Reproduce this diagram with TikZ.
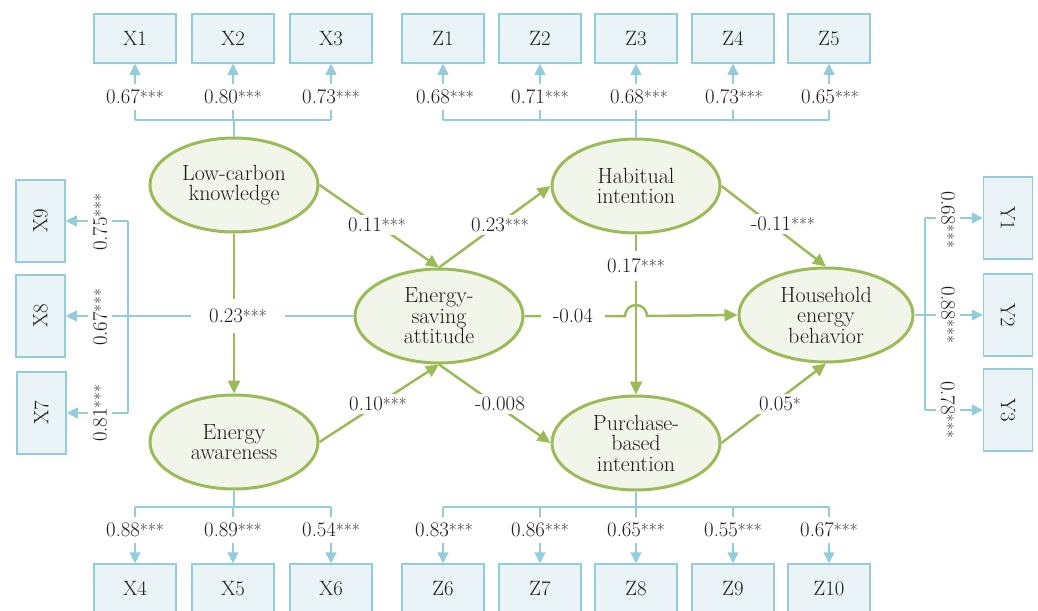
\documentclass[tikz,border=0pt]{standalone}
\usepackage{graphicx}
\usetikzlibrary{shapes.geometric,arrows.meta}
\definecolor{gborder}{HTML}{9BBB59}
\definecolor{gfill}{HTML}{F2F6EA}
\definecolor{bborder}{HTML}{92CDDC}
\definecolor{bfill}{HTML}{EAF4F7}
\definecolor{txt}{HTML}{1A1A1A}
\newcommand{\sig}[1]{{\fontsize{17.28}{20}\selectfont#1}}
\begin{document}
\begin{tikzpicture}[x=1pt,y=-1pt,
  every node/.style={font=\fontsize{20.74}{22}\selectfont, text=txt},
  latent/.style={ellipse, draw=gborder, fill=gfill, line width=3pt, minimum width=168pt, minimum height=94pt, inner sep=0pt, align=center, font=\fontsize{22}{20.5}\selectfont},
  hbox/.style={rectangle, draw=bborder, fill=bfill, line width=1.5pt, minimum width=82pt, minimum height=49pt, inner sep=0pt},
  vbox/.style={rectangle, draw=bborder, fill=bfill, line width=1.5pt, minimum width=49pt, minimum height=82pt, inner sep=0pt},
  gpath/.style={draw=gborder, line width=2.5pt, -{Triangle[length=13pt,width=12pt]}},
  gline/.style={draw=gborder, line width=2.5pt},
  bpath/.style={draw=bborder, line width=1.5pt, -{Triangle[length=11pt,width=11pt]}},
  bline/.style={draw=bborder, line width=1.5pt},
  lab/.style={fill=white, inner xsep=4pt, inner ysep=3pt},
  vlab/.style={fill=white, inner xsep=4pt, inner ysep=8pt},
  ilab/.style={fill=white, inner xsep=2pt, inner ysep=6pt},
  slab/.style={fill=white, inner xsep=2pt, inner ysep=5pt},
]
\useasboundingbox (0,0) rectangle (1038,610);

% latent variables
\node[latent] (LK) at (234,185) {Low-carbon\\knowledge};
\node[latent] (EA) at (234,442) {Energy\\awareness};
\node[latent] (ESA) at (439,316) {Energy-\\saving\\attitude};
\node[latent] (HI) at (636,186) {Habitual\\intention};
\node[latent] (PI) at (636,443) {Purchase-\\based\\intention};
\node[latent, minimum width=174pt] (HEB) at (826,315) {Household\\energy\\behavior};

% indicator boxes
\node[hbox] (X1) at (135,38.5) {X1};
\node[hbox] (X2) at (233,38.5) {X2};
\node[hbox] (X3) at (331,38.5) {X3};
\node[hbox] (Z1) at (443,38.5) {Z1};
\node[hbox] (Z2) at (540,38.5) {Z2};
\node[hbox] (Z3) at (636,38.5) {Z3};
\node[hbox] (Z4) at (733,38.5) {Z4};
\node[hbox] (Z5) at (829,38.5) {Z5};
\node[hbox] (X4) at (135,588.5) {X4};
\node[hbox] (X5) at (233,588.5) {X5};
\node[hbox] (X6) at (331,588.5) {X6};
\node[hbox] (Z6) at (443,588.5) {Z6};
\node[hbox] (Z7) at (540,588.5) {Z7};
\node[hbox] (Z8) at (636,588.5) {Z8};
\node[hbox] (Z9) at (733,588.5) {Z9};
\node[hbox] (Z10) at (829,588.5) {Z10};
\node[vbox] (X9) at (40.5,221) {\rotatebox{90}{X9}};
\node[vbox] (X8) at (40.5,316) {\rotatebox{90}{X8}};
\node[vbox] (X7) at (41.5,413) {\rotatebox{90}{X7}};
\node[vbox] (Y1) at (1008,218) {\rotatebox{-90}{Y1}};
\node[vbox] (Y2) at (1008,315) {\rotatebox{-90}{Y2}};
\node[vbox] (Y3) at (1008,410) {\rotatebox{-90}{Y3}};

% bracket points
\coordinate (tX) at (233,120);
\coordinate (tZ) at (636,120);
\coordinate (bX) at (234,507);
\coordinate (bZ) at (636,507);
\coordinate (lB) at (128,316);
\coordinate (rB) at (925,315);

% blue measurement lines
\draw[bline] (LK.north) -- (LK.north |- tX);
\draw[bline] (X1.south |- tX) -- (X3.south |- tX);
\foreach \n in {X1,X2,X3} \draw[bpath] (\n.south |- tX) -- (\n.south);
\draw[bline] (HI.north) -- (tZ);
\draw[bline] (Z1.south |- tZ) -- (Z5.south |- tZ);
\foreach \n in {Z1,Z2,Z3,Z4,Z5} \draw[bpath] (\n.south |- tZ) -- (\n.south);
\draw[bline] (EA.south) -- (EA.south |- bX);
\draw[bline] (X4.north |- bX) -- (X6.north |- bX);
\foreach \n in {X4,X5,X6} \draw[bpath] (\n.north |- bX) -- (\n.north);
\draw[bline] (PI.south) -- (bZ);
\draw[bline] (Z6.north |- bZ) -- (Z10.north |- bZ);
\foreach \n in {Z6,Z7,Z8,Z9,Z10} \draw[bpath] (\n.north |- bZ) -- (\n.north);
\draw[bline] (X9.east -| lB) -- (X7.east -| lB);
\draw[bpath] (X9.east -| lB) -- (X9.east);
\draw[bpath] (X7.east -| lB) -- (X7.east);
\draw[bpath] (ESA.west) -- (X8.east);
\draw[bline] (Y1.west -| rB) -- (Y3.west -| rB);
\draw[bpath] (Y1.west -| rB) -- (Y1.west);
\draw[bpath] (Y3.west -| rB) -- (Y3.west);
\draw[bpath] (HEB.east) -- (Y2.west);

% green structural paths
\draw[gpath] (LK.east) -- (ESA.north);
\draw[gpath] (EA.east) -- (ESA.south);
\draw[gpath] (LK.south) -- (EA.north);
\draw[gpath] (ESA.north) -- (HI.west);
\draw[gpath] (ESA.south) -- (PI.west);
\draw[gpath] (HI.south) -- (PI.north);
\draw[gpath] (HI.east) -- (HEB.north);
\draw[gpath] (PI.east) -- (HEB.south);
\draw[gpath] (ESA.east) -- (625,316) arc[start angle=180, end angle=0, radius=11pt] -- (HEB.west);

% structural labels
\node[lab] (p1) at (377,225) {0.11\sig{***}};
\node[lab] (p2) at (378,404) {0.10\sig{***}};
\node[vlab, inner xsep=18pt, inner ysep=10pt] (p3) at (238,316) {0.23\sig{***}};
\node[lab] (p4) at (500,225) {0.23\sig{***}};
\node[lab] (p5) at (500,404) {-0.008};
\node[lab, inner xsep=12pt] (p6) at (573,316) {-0.04};
\node[vlab] (p7) at (636,266) {0.17\sig{***}};
\node[lab] (p8) at (783,224) {-0.11\sig{***}};
\node[lab] (p9) at (780,404) {0.05\sig{*}};

% loading labels
\node[ilab] (lX1) at (135,97) {0.67\sig{***}};
\node[ilab] (lX2) at (233,97) {0.80\sig{***}};
\node[ilab] (lX3) at (331,97) {0.73\sig{***}};
\node[ilab] (lZ1) at (445,97) {0.68\sig{***}};
\node[ilab] (lZ2) at (540,97) {0.71\sig{***}};
\node[ilab] (lZ3) at (639,97) {0.68\sig{***}};
\node[ilab] (lZ4) at (734,97) {0.73\sig{***}};
\node[ilab] (lZ5) at (830,97) {0.65\sig{***}};
\node[ilab] (lX4) at (135,530) {0.88\sig{***}};
\node[ilab] (lX5) at (233,530) {0.89\sig{***}};
\node[ilab] (lX6) at (331,530) {0.54\sig{***}};
\node[ilab] (lZ6) at (444,530) {0.83\sig{***}};
\node[ilab] (lZ7) at (540,530) {0.86\sig{***}};
\node[ilab] (lZ8) at (636,530) {0.65\sig{***}};
\node[ilab] (lZ9) at (733,530) {0.55\sig{***}};
\node[ilab] (lZ10) at (829,530) {0.67\sig{***}};
\node[slab, rotate=90] (lX9) at (100,222) {0.75\sig{***}};
\node[slab, rotate=90] (lX8) at (100,317) {0.67\sig{***}};
\node[slab, rotate=90] (lX7) at (100,413) {0.81\sig{***}};
\node[slab, rotate=-90] (lY1) at (948,220) {0.68\sig{***}};
\node[slab, rotate=-90] (lY2) at (948,315) {0.88\sig{***}};
\node[slab, rotate=-90] (lY3) at (948,410) {0.78\sig{***}};
\end{tikzpicture}
\end{document}
